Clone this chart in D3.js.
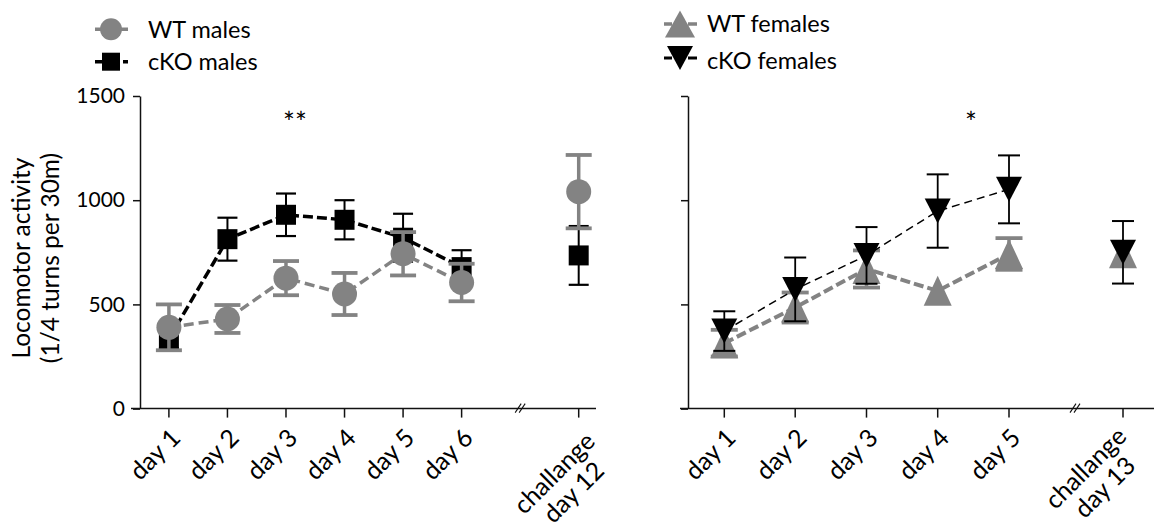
<!DOCTYPE html>
<html><head><meta charset="utf-8">
<script src="https://cdn.jsdelivr.net/npm/d3@7"></script>
<style>
body{margin:0;background:#fff}
svg{display:block}
text{font-family:Lato, "Liberation Sans", sans-serif; fill:#000}
</style>
</head><body>
<svg id="chart" width="1154" height="527"></svg>
<script>
// ---------- data ----------
const maleCategories = ["day 1","day 2","day 3","day 4","day 5","day 6","challange\nday 12"];
const wtMalesMean  = [390, 430, 626, 550, 743, 605, 1041];
const wtMalesSem   = [110, 67, 82, 101, 104, 90, 176];
const ckoMalesMean = [335, 813, 930, 906, 820, 679, 735];
const ckoMalesSem  = [45, 103, 102, 94, 115, 81, 141];

const femaleCategories = ["day 1","day 2","day 3","day 4","day 5","challange\nday 13"];
const wtFemalesMean  = [314, 485, 670, 565, 742, 745];
const wtFemalesSem   = [64, 72, 89, null, 76, null];
const ckoFemalesMean = [372, 572, 735, 948, 1052, 750];
const ckoFemalesSem  = [95, 153, 136, 176, 163, 150];

const yTickValues = [0, 500, 1000, 1500];
const maleSignif = "**";
const femaleSignif = "*";
const legendMales = ["WT males", "cKO males"];
const legendFemales = ["WT females", "cKO females"];
const yLabelLines = ["Locomotor activity", "(1/4 turns per 30m)"];

// ---------- setup ----------
const svg = d3.select("#chart");
const GREY = "#838383";
const BLACK = "#000";
const XFONT = 25;
const YLFONT = 24.5;
const TICKFONT = 21;

const y = d3.scaleLinear().domain([0, 1500]).range([408.6, 96]);

const maleDays = maleCategories.slice(0, 6);
const maleChallenge = maleCategories[6];
const xL = d3.scalePoint().domain([...maleDays, "//", maleChallenge]).range([168.9, 578.7]);

const femaleDays = femaleCategories.slice(0, 5);
const femaleChallenge = femaleCategories[5];
const xR = d3.scaleOrdinal().domain([...femaleDays, "//", femaleChallenge])
  .range([724.3, 795.2, 866.5, 937.7, 1009, 1075, 1123]);

// ---------- symbols ----------
function triUp(w, h){ return {draw(c){ c.moveTo(0,-h/2); c.lineTo(w/2,h/2); c.lineTo(-w/2,h/2); c.closePath(); }}; }
function triDown(w, h){ return {draw(c){ c.moveTo(-w/2,-h/2); c.lineTo(w/2,-h/2); c.lineTo(0,h/2); c.closePath(); }}; }
function square(s){ return {draw(c){ c.rect(-s/2,-s/2,s,s); }}; }
function circle(r){ return {draw(c){ c.moveTo(r,0); c.arc(0,0,r,0,2*Math.PI); }}; }

// ---------- axes ----------
function drawYAxis(x0, labels){
  const ax = d3.axisLeft(y).tickValues(yTickValues).tickSize(7).tickSizeOuter(0).tickPadding(8)
    .tickFormat(labels ? d3.format("d") : () => "");
  const g = svg.append("g").attr("transform", `translate(${x0},0)`).call(ax);
  g.attr("font-family", null).attr("font-size", null);
  g.selectAll("path,line").attr("stroke", "#111").attr("stroke-width", 1.5);
  g.selectAll("text").attr("font-size", TICKFONT).attr("fill","#000");
  return g;
}
function drawXAxis(x, days, challenge, x1, x2, chDx, chY){
  const y0 = y(0);
  const g = svg.append("g");
  g.append("line").attr("x1", x1).attr("x2", x2).attr("y1", y0).attr("y2", y0)
    .attr("stroke","#111").attr("stroke-width",1.5);
  [...days, challenge].forEach(d => {
    g.append("line").attr("x1", x(d)).attr("x2", x(d)).attr("y1", y0).attr("y2", y0+9)
      .attr("stroke","#111").attr("stroke-width",1.5);
  });
  // break marks
  const bx = x("//");
  [-2, 2].forEach(o => {
    g.append("line").attr("x1", bx+o-3).attr("y1", y0+4).attr("x2", bx+o+3).attr("y2", y0-5)
      .attr("stroke","#111").attr("stroke-width",1.1);
  });
  days.forEach(d => {
    g.append("text").attr("transform", `translate(${x(d)+13},${y0+31}) rotate(-45)`)
      .attr("text-anchor","end").attr("font-size", XFONT).text(d);
  });
  const lines = challenge.split("\n");
  const cg = g.append("g").attr("transform", `translate(${x(challenge)+chDx},${chY}) rotate(-45)`);
  const t1 = cg.append("text").attr("font-size", XFONT).attr("text-anchor","middle").text(lines[0]);
  const w = t1.node().getComputedTextLength();
  t1.attr("x", -w/2);
  cg.append("text").attr("font-size", XFONT).attr("text-anchor","middle").attr("x", -w/2).attr("y", 27).text(lines[1]);
}

// ---------- series ----------
function drawSeries(x, cats, means, sems, o){
  const g = svg.append("g");
  cats.forEach((c, i) => {
    const s = sems[i];
    if (s == null) return;
    const xc = x(c), y1 = y(means[i]+s), y2 = y(means[i]-s);
    g.append("line").attr("x1",xc).attr("x2",xc).attr("y1",y1).attr("y2",y2)
      .attr("stroke",o.color).attr("stroke-width",o.stemW);
    [y1,y2].forEach(yy => g.append("line").attr("x1",xc-o.capW/2).attr("x2",xc+o.capW/2)
      .attr("y1",yy).attr("y2",yy).attr("stroke",o.color).attr("stroke-width",o.capT));
  });
  const nl = o.nLine;
  const line = d3.line().x(d => x(d[0])).y(d => y(d[1]));
  g.append("path").datum(cats.slice(0,nl).map((c,i)=>[c, means[i]]))
    .attr("d", line).attr("fill","none").attr("stroke",o.color)
    .attr("stroke-width",o.lineW).attr("stroke-dasharray",o.dash);
  const sym = d3.symbol(o.symbol);
  cats.forEach((c,i) => {
    g.append("path").attr("d", sym()).attr("transform",`translate(${x(c)},${y(means[i])})`)
      .attr("fill",o.color);
  });
}

// ---------- left panel ----------
drawYAxis(140, true);
drawXAxis(xL, maleDays, maleChallenge, 131, 596, 18, 443);
drawSeries(xL, maleCategories, ckoMalesMean, ckoMalesSem,
  {color:BLACK, stemW:2, capW:20, capT:2.2, lineW:3.5, dash:"10,4", symbol:square(20), nLine:6});
drawSeries(xL, maleCategories, wtMalesMean, wtMalesSem,
  {color:GREY, stemW:3.5, capW:26, capT:3.8, lineW:3.5, dash:"10,5", symbol:circle(12.5), nLine:6});

// ---------- right panel ----------
drawYAxis(688, false);
drawXAxis(xR, femaleDays, femaleChallenge, 680, 1154, 5, 438);
drawSeries(xR, femaleCategories, wtFemalesMean, wtFemalesSem,
  {color:GREY, stemW:3.5, capW:27, capT:3.8, lineW:4, dash:"10,4", symbol:triUp(28,30), nLine:5});
drawSeries(xR, femaleCategories, ckoFemalesMean, ckoFemalesSem,
  {color:BLACK, stemW:1.8, capW:22, capT:2, lineW:1.5, dash:"8,5", symbol:triDown(26,25), nLine:5});

// ---------- y label ----------
yLabelLines.forEach((t, i) => {
  svg.append("text").attr("transform", `translate(${30 + i*29},258) rotate(-90)`)
    .attr("text-anchor","middle").attr("font-size", YLFONT).text(t);
});

// ---------- significance ----------
svg.append("text").attr("x", 295).attr("y", 133).attr("text-anchor","middle")
  .attr("font-family","Liberation Sans").attr("font-size", 28).text(maleSignif);
svg.append("text").attr("x", 971).attr("y", 133).attr("text-anchor","middle")
  .attr("font-family","Liberation Sans").attr("font-size", 28).text(femaleSignif);

// ---------- legends ----------
function legendItem(xc, yc, color, lineW, dash, symbol, label, tx, ty){
  const g = svg.append("g");
  g.append("line").attr("x1", xc-16).attr("x2", xc+17).attr("y1", yc).attr("y2", yc)
    .attr("stroke", color).attr("stroke-width", lineW).attr("stroke-dasharray", dash);
  g.append("path").attr("d", d3.symbol(symbol)()).attr("transform", `translate(${xc},${yc})`).attr("fill", color);
  g.append("text").attr("x", tx).attr("y", ty).attr("font-size", 23.5).text(label);
}
legendItem(111, 29.3, GREY, 3.5, "6,20,10", circle(11), legendMales[0], 148, 37.5);
legendItem(111, 61.7, BLACK, 3.5, "8,20,10", square(18), legendMales[1], 148, 70);
legendItem(680, 24, GREY, 3.5, "8,16,10", triUp(30,27), legendFemales[0], 707, 32);
legendItem(680, 58, BLACK, 3, "8,16,10", triDown(26,24), legendFemales[1], 707, 69);
</script>
</body></html>
